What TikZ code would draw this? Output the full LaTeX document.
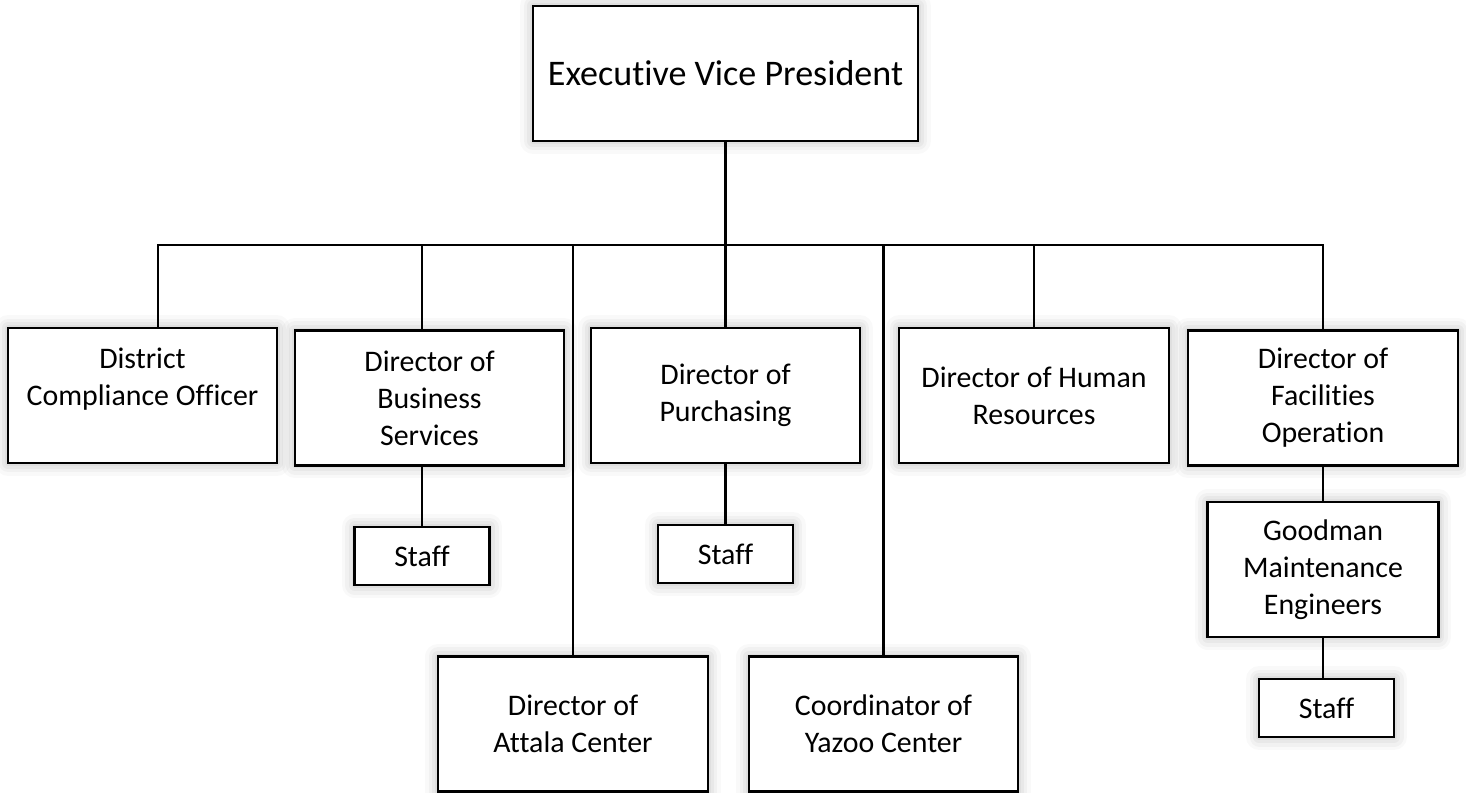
\documentclass[tikz,border=0pt]{standalone}
\usepackage{fontspec}
\setmainfont{Carlito}[Ligatures=NoCommon]
\usetikzlibrary{positioning}

\begin{document}
\begin{tikzpicture}[
        x=0.02cm, y=-0.02cm,
        every node/.style={align=center, font=\fontsize{17}{21}\selectfont},
        glow/.style={preaction={draw=black, opacity=.025, line width=5.2mm, line join=round},
                     preaction={draw=black, opacity=.03, line width=3.8mm, line join=round},
                     preaction={draw=black, opacity=.035, line width=2.4mm, line join=round},
                     preaction={draw=black, opacity=.04, line width=1.2mm, line join=round}},
        box/.style={rectangle, glow, draw=black, fill=white, line width=1.2pt, minimum width=5.38cm, minimum height=2.7cm, inner sep=2pt},
        staffbox/.style={box, minimum width=2.7cm, minimum height=1.16cm},
        link/.style={line width=1.3pt}
    ]
    \useasboundingbox (0,0) rectangle (1466,792);
    % Nodes
    \node[box, minimum width=7.7cm, font=\fontsize{20.5}{25}\selectfont] (evp) at (725.5,73.5) {Executive Vice President};
    \node[box] (dco) at (142.5,395.5) {District\\Compliance Officer\\~};
    \node[box] (dbs) at (429.5,398) {Director of\\Business\\Services};
    \node[box] (dpu) at (725.5,395.5) {Director of\\Purchasing};
    \node[box, minimum width=5.4cm] (dhr) at (1034,395.5) {Director of Human\\Resources};
    \node[box, minimum width=5.4cm] (dfo) at (1323,398) {Director of\\Facilities\\Operation};
    \node[staffbox] (bstaff) at (422,556) {Staff};
    \node[staffbox] (pstaff) at (725.5,554) {Staff};
    \node[box, minimum width=4.62cm] (gme) at (1323,569.5) {Goodman\\Maintenance\\Engineers};
    \node[staffbox] (fstaff) at (1326.5,708) {Staff};
    \node[box, minimum width=5.4cm] (dac) at (573,724) {Director of\\Attala Center};
    \node[box] (cyc) at (883.5,724) {Coordinator of\\Yazoo Center};
    % Lines
    \coordinate (busl) at (158,245);
    \draw[link] (evp) -- (dpu);
    \draw[link] (busl |- dco.north) -- (busl) -- (busl -| dfo) -- (dfo.north);
    \draw[link] (bstaff |- busl) -- (bstaff |- dbs.north);
    \draw[link] (dac |- busl) -- (dac.north);
    \draw[link] (cyc |- busl) -- (cyc.north);
    \draw[link] (dhr |- busl) -- (dhr.north);
    \draw[link] (bstaff |- dbs.south) -- (bstaff.north);
    \draw[link] (dpu) -- (pstaff);
    \draw[link] (dfo) -- (gme);
    \draw[link] (gme.south) -- (gme.south |- fstaff.north);
\end{tikzpicture}
\end{document}
